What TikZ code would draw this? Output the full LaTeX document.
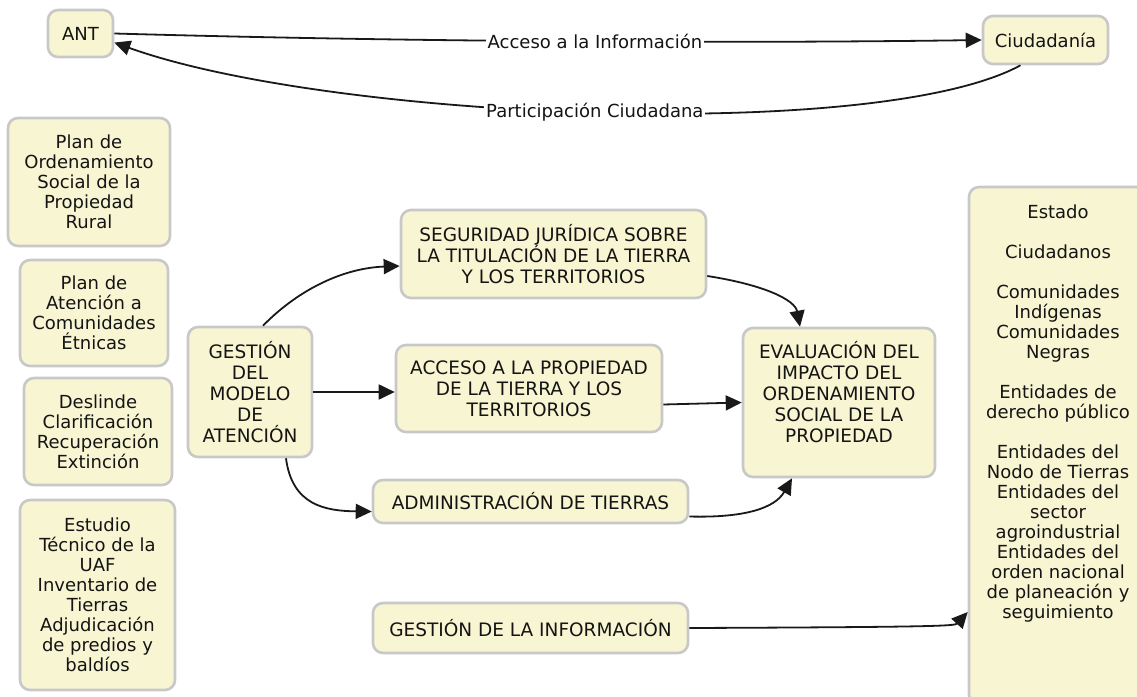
\documentclass[tikz,border=0pt]{standalone}
\usepackage{fontspec}
\setmainfont{DejaVu Sans}
\usetikzlibrary{arrows.meta}

\definecolor{boxfill}{RGB}{248,245,210}
\definecolor{boxline}{RGB}{200,200,200}
\definecolor{txt}{RGB}{20,20,20}

\tikzstyle{box} = [align=center,draw=boxline,fill=boxfill,line width=2.6pt,rounded corners=10pt,text=txt,font=\fontsize{18}{20}\selectfont,inner sep=3pt]
\tikzstyle{caps} = [box,font=\fontsize{18.5}{21}\selectfont]
\tikzstyle{link} = [-{Triangle[length=16pt,width=15pt]},line width=1.8pt,black!90]
\tikzstyle{lbl} = [fill=white,text=txt,font=\fontsize{18}{20}\selectfont,inner sep=2pt]

\begin{document}
\begin{tikzpicture}[x=1pt,y=-1pt]
	\useasboundingbox (0,0) rectangle (1137,696);
	\node (ant) [box,minimum width=65pt,minimum height=47pt] at (80.5,33.5) {ANT};
	\node (ciud) [box,minimum width=125pt,minimum height=48pt] at (1045.5,40) {Ciudadanía};
	\node (plan1) [box,minimum width=162pt,minimum height=128pt] at (89,182) {Plan de\\Ordenamiento\\Social de la\\Propiedad\\Rural};
	\node (plan2) [box,minimum width=148pt,minimum height=106pt] at (94,313) {Plan de\\Atención a\\Comunidades\\Étnicas};
	\node (plan3) [box,minimum width=148pt,minimum height=107pt] at (98,431.5) {Deslinde\\Clarificación\\Recuperación\\Extinción};
	\node (plan4) [box,minimum width=155pt,minimum height=190pt] at (97.5,595) {Estudio\\Técnico de la\\UAF\\Inventario de\\Tierras\\Adjudicación\\de predios y\\baldíos};
	\node (gestion) [caps,minimum width=124pt,minimum height=130pt] at (250,392) {GESTIÓN\\DEL\\MODELO\\DE\\ATENCIÓN};
	\node (seguridad) [caps,minimum width=305pt,minimum height=88pt] at (553.5,254) {SEGURIDAD JURÍDICA SOBRE\\LA TITULACIÓN DE LA TIERRA\\Y LOS TERRITORIOS};
	\node (acceso) [caps,minimum width=266pt,minimum height=87pt] at (529,388.5) {ACCESO A LA PROPIEDAD\\DE LA TIERRA Y LOS\\TERRITORIOS};
	\node (admin) [caps,minimum width=315pt,minimum height=43pt] at (530.5,501.5) {ADMINISTRACIÓN DE TIERRAS};
	\node (eval) [caps,minimum width=192pt,minimum height=149pt,text depth=22pt] at (839,402.5) {EVALUACIÓN DEL\\IMPACTO DEL\\ORDENAMIENTO\\SOCIAL DE LA\\PROPIEDAD};
	\node (info) [caps,minimum width=315pt,minimum height=50pt] at (530.5,628) {GESTIÓN DE LA INFORMACIÓN};
	\node (actores) [box,minimum width=178pt,minimum height=518pt] at (1058,446) {};
	\node (actorestxt) [align=center,text=txt,font=\fontsize{18}{20}\selectfont,inner sep=0pt,anchor=north] at ([yshift=-19pt]actores.north) {Estado\\[20pt]Ciudadanos\\[20pt]Comunidades\\Indígenas\\Comunidades\\Negras\\[20pt]Entidades de\\derecho público\\[20pt]Entidades del\\Nodo de Tierras\\Entidades del\\sector\\agroindustrial\\Entidades del\\orden nacional\\de planeación y\\seguimiento};
	\draw [link] (ant.east) .. controls (450,43) and (771,43) .. (ciud.west) node [lbl,pos=0.5] {Acceso a la Información};
	\draw [link] ([xshift=-25pt]ciud.south) .. controls (878,143) and (330,120) .. (ant.-15) node [lbl,pos=0.5] {Participación Ciudadana};
	\draw [link] ([xshift=13pt]gestion.north) .. controls (300,288) and (345,268) .. ([yshift=-12pt]seguridad.west);
	\draw [link] (gestion.east) -- (gestion.east -| acceso.west);
	\draw [link] ([xshift=36pt]gestion.south) .. controls (292,505) and (325,511) .. ([yshift=-10pt]admin.west);
	\draw [link] ([yshift=-22pt]seguridad.east) .. controls (765,285) and (795,300) .. ([xshift=-39pt]eval.north);
	\draw [link] ([yshift=-16pt]acceso.east) -- (eval.west);
	\draw [link] ([yshift=-15pt]admin.east) .. controls (745,518) and (775,508) .. ([xshift=-47pt]eval.south);
	\draw [link] (info.east) .. controls (935,627) and (955,626) .. ([yshift=-166pt]actores.west);
\end{tikzpicture}
\end{document}
